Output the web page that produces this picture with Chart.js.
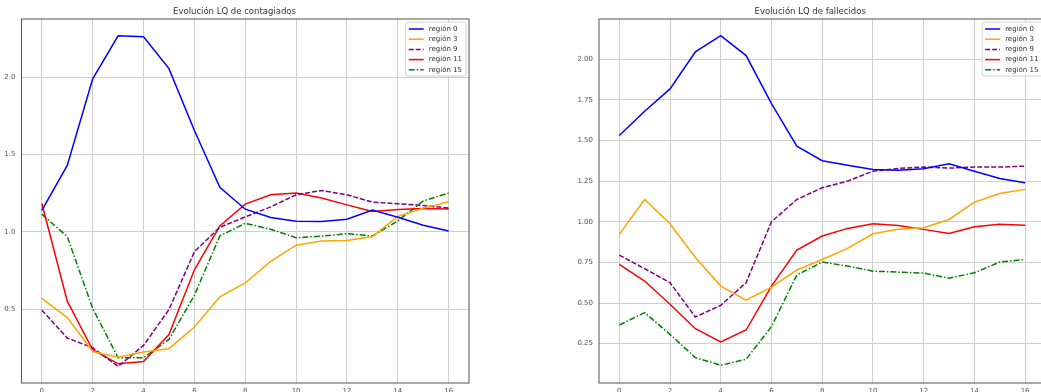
<!DOCTYPE html>
<html>
<head>
<meta charset="utf-8">
<script src="https://cdn.jsdelivr.net/npm/chart.js@4/dist/chart.umd.min.js"></script>
<style>
  html, body { margin: 0; padding: 0; background: #fff; overflow: hidden; }
  body { width: 1041px; height: 392px; position: relative; }
  .box { position: absolute; top: 0; width: 480px; height: 400px; }
</style>
</head>
<body>
<div class="box" style="left:0"><canvas id="contagiados"></canvas></div>
<div class="box" style="left:575px"><canvas id="fallecidos"></canvas></div>
<script>
const weeks = [0, 1, 2, 3, 4, 5, 6, 7, 8, 9, 10, 11, 12, 13, 14, 15, 16];
const regions = ["región 0", "región 3", "región 9", "región 11", "región 15"];
const colors = ["#0000ff", "#ffa500", "#800080", "#ff0000", "#008000"];
const dashes = [[], [], [5, 2], [], [6, 2, 1.5, 2]];

// LQ contagiados
const cont0 = [1.14, 1.43, 1.99, 2.268, 2.262, 2.056, 1.656, 1.288, 1.147, 1.093, 1.069, 1.067, 1.082, 1.141, 1.095, 1.043, 1.006];
const cont3 = [0.57, 0.446, 0.227, 0.19, 0.223, 0.245, 0.385, 0.58, 0.67, 0.81, 0.914, 0.942, 0.944, 0.97, 1.10, 1.154, 1.195];
const cont9 = [0.494, 0.314, 0.251, 0.13, 0.266, 0.498, 0.872, 1.03, 1.097, 1.162, 1.24, 1.268, 1.24, 1.193, 1.182, 1.171, 1.154];
const cont11 = [1.184, 0.552, 0.238, 0.147, 0.162, 0.336, 0.755, 1.039, 1.18, 1.24, 1.251, 1.219, 1.175, 1.132, 1.145, 1.151, 1.149];
const cont15 = [1.115, 0.97, 0.505, 0.186, 0.186, 0.305, 0.59, 0.974, 1.056, 1.017, 0.963, 0.972, 0.989, 0.974, 1.071, 1.201, 1.251];

// LQ fallecidos
const fall0 = [1.53, 1.68, 1.817, 2.045, 2.145, 2.022, 1.727, 1.465, 1.375, 1.348, 1.321, 1.317, 1.326, 1.356, 1.311, 1.266, 1.24];
const fall3 = [0.922, 1.137, 0.988, 0.78, 0.604, 0.518, 0.598, 0.703, 0.768, 0.836, 0.926, 0.953, 0.963, 1.014, 1.12, 1.174, 1.199];
const fall9 = [0.795, 0.711, 0.625, 0.414, 0.486, 0.625, 1.0, 1.137, 1.209, 1.25, 1.311, 1.328, 1.336, 1.33, 1.336, 1.336, 1.342];
const fall11 = [0.738, 0.635, 0.492, 0.342, 0.26, 0.334, 0.604, 0.825, 0.912, 0.959, 0.988, 0.977, 0.953, 0.928, 0.969, 0.985, 0.979];
const fall15 = [0.364, 0.441, 0.307, 0.164, 0.117, 0.154, 0.355, 0.672, 0.752, 0.727, 0.696, 0.69, 0.684, 0.653, 0.686, 0.752, 0.768];

const FONT = "DejaVu Sans";

function makeSets(series) {
  return series.map((vals, k) => ({
    label: regions[k],
    data: weeks.map((w, i) => ({ x: w, y: vals[i] })),
    borderColor: colors[k],
    borderWidth: 1.5,
    borderDash: dashes[k],
    pointRadius: 0,
    tension: 0,
    fill: false
  }));
}

// matplotlib style legend inside the axes + frame round the plot area
const mplDecor = {
  id: "mplDecor",
  afterDraw(chart) {
    const { ctx, chartArea: a } = chart;
    ctx.save();
    ctx.strokeStyle = "#555";
    ctx.lineWidth = 1;
    ctx.strokeRect(a.left, a.top, a.right - a.left, a.bottom - a.top);

    ctx.font = "7px '" + FONT + "'";
    const sets = chart.data.datasets;
    let tw = 0;
    sets.forEach(s => { tw = Math.max(tw, ctx.measureText(s.label).width); });
    const w = 3 + 15 + 5 + tw + 4;
    const rowH = 10.2;
    const h = sets.length * rowH + 3;
    const x0 = a.right - 3 - w;
    const y0 = a.top + 3;
    ctx.fillStyle = "rgba(255,255,255,0.85)";
    ctx.strokeStyle = "#d0d0d0";
    ctx.beginPath();
    ctx.roundRect(x0, y0, w, h, 2);
    ctx.fill();
    ctx.stroke();
    sets.forEach((s, i) => {
      const y = y0 + 7 + i * rowH;
      ctx.strokeStyle = s.borderColor;
      ctx.lineWidth = 1.5;
      ctx.setLineDash(s.borderDash || []);
      ctx.beginPath();
      ctx.moveTo(x0 + 3, y);
      ctx.lineTo(x0 + 18, y);
      ctx.stroke();
      ctx.setLineDash([]);
      ctx.fillStyle = "#333";
      ctx.textBaseline = "middle";
      ctx.fillText(s.label, x0 + 23, y);
    });
    ctx.restore();
  }
};

function makeChart(id, title, series, yMin, yMax, yStep, digits, yWidth, rightPad) {
  return new Chart(document.getElementById(id), {
    type: "line",
    data: { datasets: makeSets(series) },
    plugins: [mplDecor],
    options: {
      responsive: true,
      maintainAspectRatio: false,
      animation: false,
      layout: { padding: { left: 0, right: rightPad, top: 0, bottom: 0 } },
      plugins: {
        legend: { display: false },
        tooltip: { enabled: false },
        title: {
          display: true,
          text: title,
          color: "#333",
          font: { family: FONT, size: 8.5, weight: "normal" },
          padding: { top: 7, bottom: 1.8 }
        }
      },
      scales: {
        x: {
          type: "linear",
          min: -0.8,
          max: 16.8,
          afterFit: s => { s.height = 17; },
          grid: { color: "#cfcfcf", lineWidth: 1, drawTicks: false },
          border: { display: false },
          ticks: {
            stepSize: 2,
            includeBounds: false,
            padding: 4,
            color: "#555",
            font: { family: FONT, size: 7 },
            maxRotation: 0
          }
        },
        y: {
          min: yMin,
          max: yMax,
          afterFit: s => { s.width = yWidth; },
          grid: { color: "#cfcfcf", lineWidth: 1, drawTicks: false },
          border: { display: false },
          ticks: {
            stepSize: yStep,
            includeBounds: false,
            padding: 6,
            color: "#555",
            font: { family: FONT, size: 7 },
            callback: v => v.toFixed(digits)
          }
        }
      }
    }
  });
}

makeChart("contagiados", "Evolución LQ de contagiados",
  [cont0, cont3, cont9, cont11, cont15], 0.023, 2.377, 0.5, 1, 21.5, 11);
makeChart("fallecidos", "Evolución LQ de fallecidos",
  [fall0, fall3, fall9, fall11, fall15], 0.008, 2.247, 0.25, 2, 24, 9.6);
</script>
</body>
</html>
